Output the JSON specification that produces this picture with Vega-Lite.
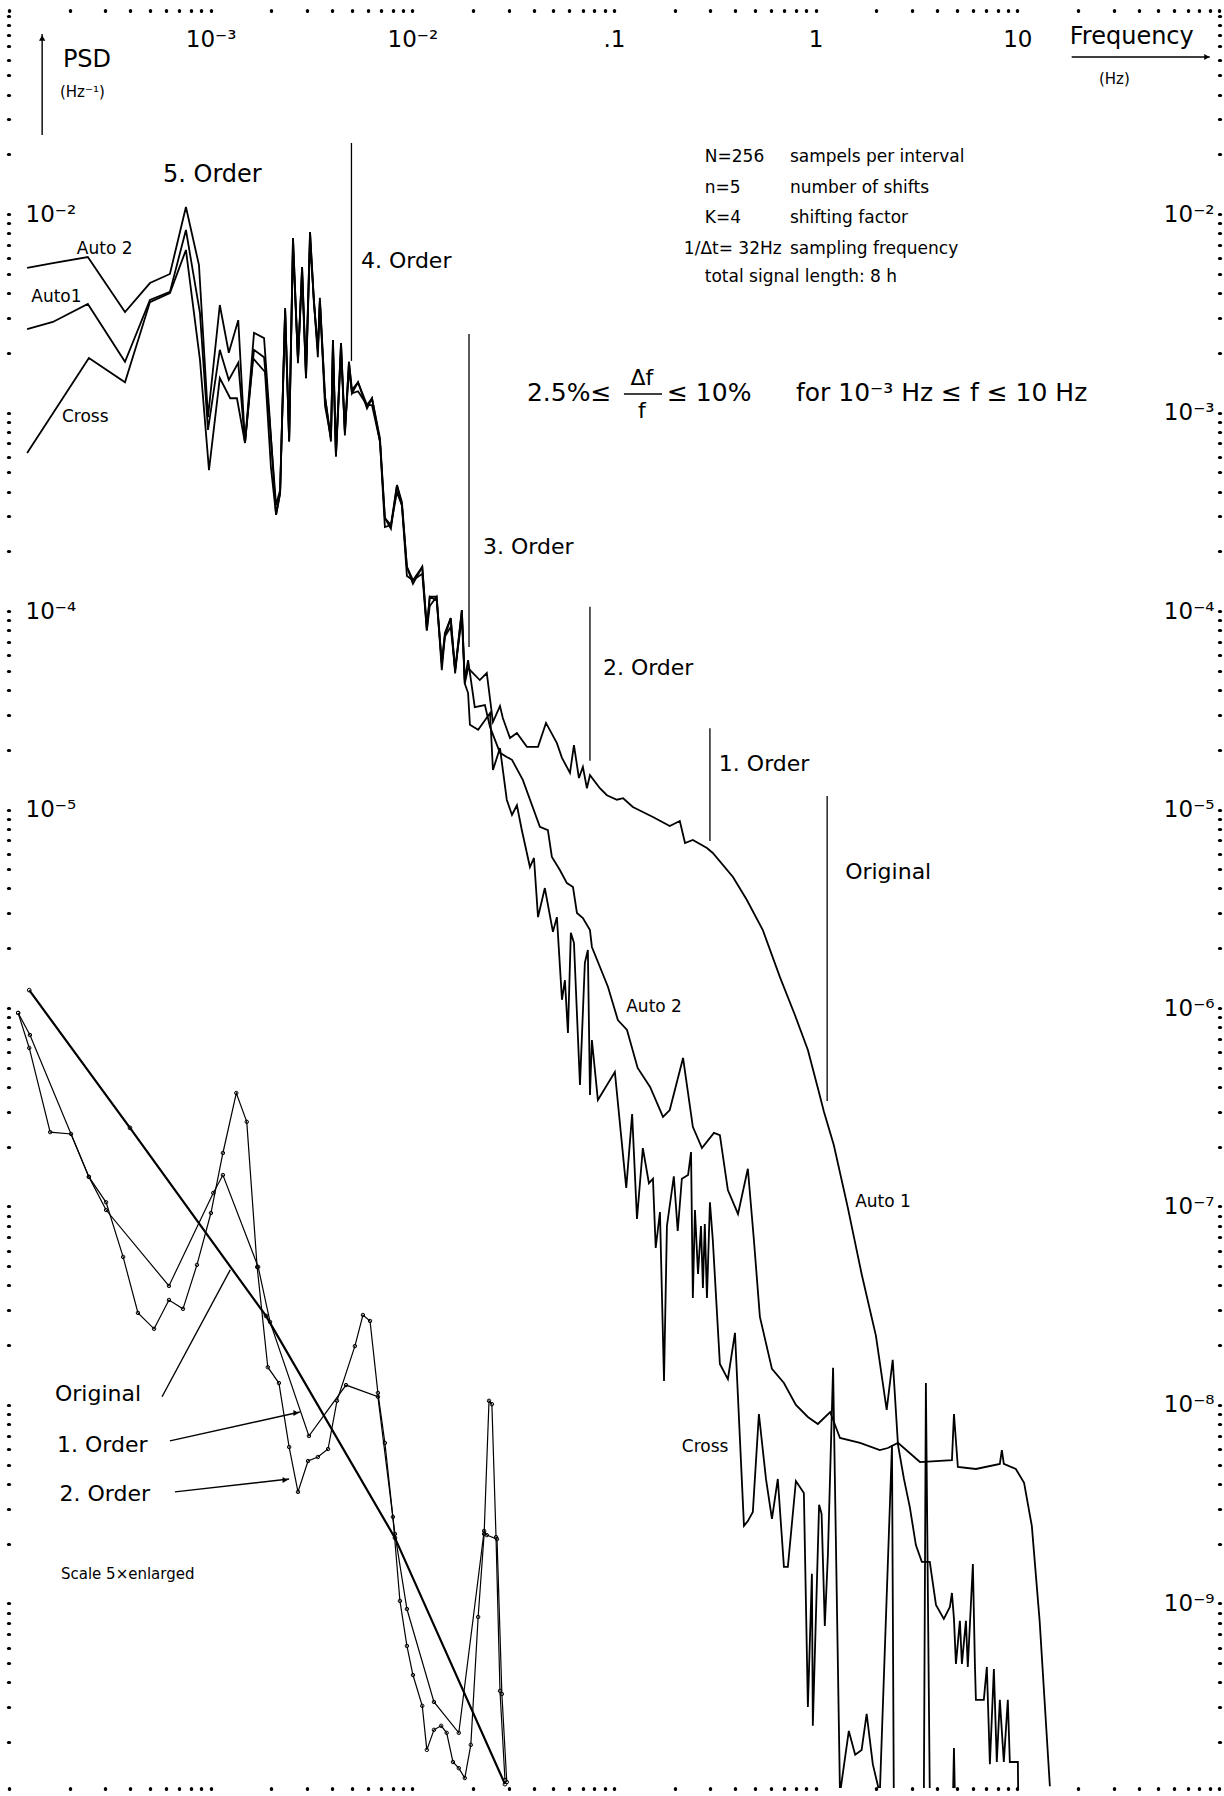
{
"$schema":"https://vega.github.io/schema/vega-lite/v6.json",
"width":1210,"height":1777,
"autosize":"none",
"padding":{"left":9,"top":11,"right":5,"bottom":8},
"background":"white",
"config":{"view":{"stroke":null},"font":"DejaVu Sans","axis":{"labelFont":"DejaVu Sans","labelColor":"black","tickColor":"black","domain":false,"grid":false,"title":null,"tickSize":1,"tickWidth":3.2,"tickCap":"round","labelOverlap":false,"labelFlush":false,"labelBound":false}},
"datasets":{
"a2":[{"f":1.23e-4,"p":5.35e-3},{"f":1.65e-4,"p":5.66e-3},{"f":2.46e-4,"p":6.07e-3},{"f":3.76e-4,"p":3.21e-3},{"f":5.00e-4,"p":4.49e-3},{"f":6.28e-4,"p":4.99e-3},{"f":7.54e-4,"p":1.085e-2},{"f":8.75e-4,"p":5.53e-3},{"f":9.70e-4,"p":9.49e-4},{"f":1.11e-3,"p":3.48e-3},{"f":1.23e-3,"p":2.00e-3},{"f":1.37e-3,"p":2.92e-3},{"f":1.48e-3,"p":7.02e-4},{"f":1.64e-3,"p":2.52e-3},{"f":1.84e-3,"p":2.37e-3},{"f":1.95e-3,"p":1.03e-3},{"f":2.11e-3,"p":3.05e-4},{"f":2.21e-3,"p":3.93e-4},
{"f":2.34e-3,"p":3.36e-3},{"f":2.45e-3,"p":7.44e-4},{"f":2.56e-3,"p":7.57e-3},{"f":2.71e-3,"p":1.84e-3},{"f":2.84e-3,"p":5.41e-3},{"f":2.97e-3,"p":1.55e-3},{"f":3.11e-3,"p":8.11e-3},{"f":3.25e-3,"p":3.69e-3},{"f":3.40e-3,"p":2.07e-3},{"f":3.48e-3,"p":3.78e-3},{"f":3.69e-3,"p":1.20e-3},{"f":3.95e-3,"p":7.44e-4},{"f":4.04e-3,"p":2.32e-3},{"f":4.18e-3,"p":6.25e-4},{"f":4.43e-3,"p":2.24e-3},{"f":4.63e-3,"p":7.98e-4},{"f":4.85e-3,"p":1.80e-3},{"f":5.02e-3,"p":1.30e-3},{"f":5.38e-3,"p":1.42e-3},{"f":5.96e-3,"p":1.09e-3},{"f":6.31e-3,"p":1.18e-3},{"f":6.91e-3,"p":7.44e-4},{"f":7.31e-3,"p":2.94e-4},{"f":7.83e-3,"p":2.71e-4},{"f":8.39e-3,"p":4.31e-4},{"f":8.88e-3,"p":3.54e-4},{"f":9.40e-3,"p":1.67e-4},{"f":1.007e-2,"p":1.43e-4},{"f":1.12e-2,"p":1.67e-4},{"f":1.18e-2,"p":8.31e-5},{"f":1.22e-2,"p":1.18e-4},{"f":1.32e-2,"p":1.18e-4},{"f":1.40e-2,"p":5.47e-5},{"f":1.45e-2,"p":7.75e-5},{"f":1.55e-2,"p":9.22e-5},{"f":1.63e-2,"p":5.05e-5},{"f":1.76e-2,"p":1.01e-4},{"f":1.82e-2,"p":4.49e-5},{"f":1.89e-2,"p":5.66e-5},
{"f":2.04e-2,"p":3.28e-5},{"f":2.29e-2,"p":3.36e-5},{"f":2.43e-2,"p":2.60e-5},{"f":2.72e-2,"p":1.93e-5},{"f":2.94e-2,"p":1.84e-5},{"f":3.12e-2,"p":1.78e-5},{"f":3.53e-2,"p":1.41e-5},{"f":4.29e-2,"p":8.17e-6},{"f":4.70e-2,"p":7.88e-6},{"f":4.92e-2,"p":5.77e-6},{"f":5.39e-2,"p":4.96e-6},{"f":5.84e-2,"p":4.26e-6},{"f":6.26e-2,"p":4.07e-6},{"f":6.55e-2,"p":3.01e-6},{"f":7.01e-2,"p":2.84e-6},{"f":7.60e-2,"p":2.47e-6},{"f":7.77e-2,"p":2.03e-6},{"f":9.33e-2,"p":1.28e-6},{"f":0.1045,"p":8.70e-7},{"f":0.116,"p":7.75e-7},{"f":0.131,"p":4.99e-7},{"f":0.151,"p":4.00e-7},{"f":0.175,"p":2.83e-7},{"f":0.189,"p":3.06e-7},{"f":0.220,"p":5.60e-7},{"f":0.246,"p":2.52e-7},{"f":0.273,"p":1.97e-7},{"f":0.313,"p":2.35e-7},{"f":0.335,"p":2.29e-7},{"f":0.367,"p":1.21e-7},{"f":0.412,"p":9.17e-8},{"f":0.461,"p":1.55e-7},{"f":0.494,"p":6.78e-8},{"f":0.529,"p":2.78e-8},{"f":0.607,"p":1.52e-8},{"f":0.696,"p":1.29e-8},{"f":0.798,"p":1.00e-8},{"f":0.915,"p":8.70e-9},{"f":1.025,"p":8.02e-9},{"f":1.18,"p":9.22e-9},{"f":1.32,"p":6.82e-9},{"f":1.66,"p":6.44e-9},{"f":2.08,"p":5.93e-9},{"f":2.28,"p":6.07e-9},{"f":2.56,"p":6.44e-9},{"f":3.29,"p":5.16e-9},{"f":4.74,"p":5.28e-9},{"f":4.85,"p":9.01e-9},{"f":5.07,"p":4.87e-9},{"f":6.23,"p":4.76e-9},{"f":8.19,"p":5.05e-9},{"f":8.38,"p":5.93e-9},{"f":8.57,"p":5.05e-9},{"f":9.83,"p":4.76e-9},{"f":10.8,"p":4.05e-9},{"f":11.8,"p":2.46e-9},{"f":12.9,"p":8.17e-10},{"f":14.5,"p":1.20e-10}],
"a1":[{"f":1.23e-4,"p":2.63e-3},{"f":1.65e-4,"p":2.86e-3},{"f":2.46e-4,"p":3.52e-3},{"f":3.76e-4,"p":1.80e-3},{"f":5.00e-4,"p":3.69e-3},{"f":6.28e-4,"p":4.05e-3},{"f":7.54e-4,"p":8.31e-3},{"f":8.85e-4,"p":3.17e-3},{"f":9.70e-4,"p":8.17e-4},{"f":1.11e-3,"p":2.07e-3},{"f":1.23e-3,"p":1.46e-3},{"f":1.37e-3,"p":1.78e-3},{"f":1.48e-3,"p":7.02e-4},{"f":1.64e-3,"p":2.07e-3},{"f":1.84e-3,"p":1.90e-3},{"f":1.95e-3,"p":9.71e-4},{"f":2.11e-3,"p":3.42e-4},{"f":2.21e-3,"p":4.07e-4},{"f":2.34e-3,"p":3.28e-3},
{"f":2.45e-3,"p":7.14e-4},{"f":2.56e-3,"p":7.57e-3},{"f":2.71e-3,"p":1.77e-3},{"f":2.84e-3,"p":5.41e-3},{"f":2.97e-3,"p":1.49e-3},{"f":3.11e-3,"p":8.11e-3},{"f":3.25e-3,"p":3.54e-3},{"f":3.40e-3,"p":2.07e-3},{"f":3.48e-3,"p":3.63e-3},{"f":3.69e-3,"p":1.20e-3},{"f":3.95e-3,"p":7.14e-4},{"f":4.04e-3,"p":2.32e-3},{"f":4.18e-3,"p":6.00e-4},{"f":4.43e-3,"p":2.24e-3},{"f":4.63e-3,"p":7.66e-4},{"f":4.85e-3,"p":1.80e-3},{"f":5.02e-3,"p":1.25e-3},{"f":5.38e-3,"p":1.42e-3},{"f":5.96e-3,"p":1.05e-3},{"f":6.31e-3,"p":1.18e-3},{"f":6.91e-3,"p":7.14e-4},{"f":7.31e-3,"p":2.94e-4},{"f":7.83e-3,"p":2.60e-4},{"f":8.39e-3,"p":4.31e-4},{"f":8.88e-3,"p":3.40e-4},{"f":9.40e-3,"p":1.67e-4},{"f":1.007e-2,"p":1.37e-4},{"f":1.12e-2,"p":1.67e-4},{"f":1.18e-2,"p":7.98e-5},{"f":1.22e-2,"p":1.18e-4},{"f":1.32e-2,"p":1.13e-4},{"f":1.40e-2,"p":5.47e-5},{"f":1.45e-2,"p":7.44e-5},{"f":1.55e-2,"p":9.22e-5},{"f":1.63e-2,"p":4.85e-5},{"f":1.76e-2,"p":1.01e-4},{"f":1.82e-2,"p":4.31e-5},
{"f":1.89e-2,"p":5.16e-5},{"f":2.16e-2,"p":4.49e-5},{"f":2.34e-2,"p":4.87e-5},{"f":2.51e-2,"p":2.76e-5},{"f":2.72e-2,"p":3.32e-5},{"f":2.81e-2,"p":2.89e-5},{"f":3.05e-2,"p":2.29e-5},{"f":3.30e-2,"p":2.43e-5},{"f":3.70e-2,"p":2.07e-5},{"f":4.20e-2,"p":2.07e-5},{"f":4.60e-2,"p":2.73e-5},{"f":5.21e-2,"p":2.16e-5},{"f":5.52e-2,"p":1.82e-5},{"f":6.05e-2,"p":1.53e-5},{"f":6.33e-2,"p":2.11e-5},{"f":6.70e-2,"p":1.44e-5},{"f":7.01e-2,"p":1.64e-5},{"f":7.34e-2,"p":1.28e-5},{"f":7.60e-2,"p":1.49e-5},{"f":8.51e-2,"p":1.28e-5},{"f":9.22e-2,"p":1.18e-5},{"f":0.1034,"p":1.12e-5},{"f":0.111,"p":1.14e-5},{"f":0.124,"p":1.03e-5},{"f":0.156,"p":9.17e-6},{"f":0.189,"p":8.26e-6},{"f":0.212,"p":8.75e-6},{"f":0.225,"p":6.78e-6},{"f":0.246,"p":7.02e-6},{"f":0.289,"p":6.40e-6},{"f":0.309,"p":6.04e-6},{"f":0.389,"p":4.57e-6},{"f":0.456,"p":3.50e-6},{"f":0.547,"p":2.47e-6},{"f":0.665,"p":1.43e-6},{"f":0.789,"p":9.22e-7},{"f":0.915,"p":6.14e-7},{"f":1.025,"p":3.95e-7},{"f":1.10,"p":2.99e-7},{"f":1.23,"p":2.04e-7},{"f":1.44,"p":9.98e-8},{"f":1.69,"p":4.57e-8},{"f":1.99,"p":2.23e-8},{"f":2.25,"p":9.44e-9},{"f":2.41,"p":1.69e-8},{"f":2.56,"p":6.29e-9},{"f":2.74,"p":4.24e-9},{"f":2.93,"p":3.06e-9},{"f":3.14,"p":1.97e-9},{"f":3.36,"p":1.62e-9},{"f":3.68,"p":1.62e-9},{"f":3.95,"p":9.83e-10},{"f":4.32,"p":8.36e-10},{"f":4.63,"p":9.60e-10},{"f":4.74,"p":1.13e-9},{"f":4.85,"p":8.36e-10},{"f":4.96,"p":4.96e-10},{"f":5.19,"p":8.17e-10},{"f":5.31,"p":4.96e-10},{"f":5.56,"p":8.17e-10},{"f":5.68,"p":4.79e-10},{"f":6.02,"p":1.58e-9},{"f":6.16,"p":4.96e-10},{"f":6.23,"p":3.27e-10},{"f":6.82,"p":3.27e-10},{"f":7.06,"p":4.79e-10},{"f":7.31,"p":1.55e-10},{"f":7.65,"p":4.68e-10},{"f":7.91,"p":1.59e-10},{"f":8.19,"p":3.27e-10},{"f":8.57,"p":1.59e-10},{"f":8.97,"p":3.27e-10},{"f":9.18,"p":1.59e-10},{"f":10.06,"p":1.59e-10},{"f":10.1,"p":1.1e-10}],
"cr":[{"f":1.23e-4,"p":6.25e-4},{"f":2.49e-4,"p":1.88e-3},{"f":3.76e-4,"p":1.42e-3},{"f":5.00e-4,"p":3.60e-3},{"f":6.28e-4,"p":4.00e-3},{"f":7.54e-4,"p":6.59e-3},{"f":8.85e-4,"p":1.84e-3},{"f":9.81e-4,"p":5.13e-4},{"f":1.11e-3,"p":1.49e-3},{"f":1.25e-3,"p":1.18e-3},{"f":1.35e-3,"p":1.18e-3},{"f":1.48e-3,"p":7.02e-4},{"f":1.62e-3,"p":1.88e-3},{"f":1.86e-3,"p":1.60e-3},{"f":1.99e-3,"p":5.31e-4},{"f":2.11e-3,"p":3.05e-4},{"f":2.21e-3,"p":3.93e-4},{"f":2.34e-3,"p":3.21e-3},
{"f":2.45e-3,"p":7.14e-4},{"f":2.56e-3,"p":6.81e-3},{"f":2.71e-3,"p":1.84e-3},{"f":2.84e-3,"p":4.98e-3},{"f":2.97e-3,"p":1.49e-3},{"f":3.11e-3,"p":7.30e-3},{"f":3.25e-3,"p":3.69e-3},{"f":3.40e-3,"p":1.90e-3},{"f":3.48e-3,"p":3.63e-3},{"f":3.69e-3,"p":1.08e-3},{"f":3.95e-3,"p":7.44e-4},{"f":4.04e-3,"p":2.13e-3},{"f":4.18e-3,"p":6.00e-4},{"f":4.43e-3,"p":2.02e-3},{"f":4.63e-3,"p":7.98e-4},{"f":4.85e-3,"p":1.66e-3},{"f":5.02e-3,"p":1.25e-3},{"f":5.38e-3,"p":1.28e-3},{"f":5.96e-3,"p":1.09e-3},{"f":6.31e-3,"p":1.09e-3},{"f":6.91e-3,"p":7.14e-4},{"f":7.31e-3,"p":2.65e-4},{"f":7.83e-3,"p":2.71e-4},{"f":8.39e-3,"p":3.97e-4},{"f":8.88e-3,"p":3.40e-4},{"f":9.40e-3,"p":1.50e-4},{"f":1.007e-2,"p":1.43e-4},{"f":1.12e-2,"p":1.54e-4},{"f":1.18e-2,"p":7.98e-5},{"f":1.22e-2,"p":1.06e-4},{"f":1.32e-2,"p":1.18e-4},{"f":1.40e-2,"p":5.03e-5},{"f":1.45e-2,"p":7.44e-5},{"f":1.55e-2,"p":8.30e-5},{"f":1.63e-2,"p":5.05e-5},{"f":1.76e-2,"p":9.29e-5},{"f":1.82e-2,"p":4.31e-5},
{"f":1.89e-2,"p":3.86e-5},{"f":1.93e-2,"p":2.67e-5},{"f":2.12e-2,"p":2.52e-5},{"f":2.43e-2,"p":3.06e-5},{"f":2.51e-2,"p":1.58e-5},{"f":2.72e-2,"p":2.04e-5},{"f":2.94e-2,"p":1.12e-5},{"f":3.12e-2,"p":9.38e-6},{"f":3.30e-2,"p":1.05e-5},{"f":3.49e-2,"p":7.88e-6},{"f":3.83e-2,"p":5.13e-6},{"f":4.01e-2,"p":5.70e-6},{"f":4.20e-2,"p":2.87e-6},{"f":4.54e-2,"p":4.02e-6},{"f":4.98e-2,"p":2.42e-6},{"f":5.21e-2,"p":2.87e-6},{"f":5.52e-2,"p":1.10e-6},{"f":5.71e-2,"p":1.38e-6},{"f":5.91e-2,"p":7.48e-7},{"f":6.11e-2,"p":2.39e-6},{"f":6.33e-2,"p":2.13e-6},{"f":6.78e-2,"p":4.09e-7},{"f":7.17e-2,"p":1.69e-6},{"f":7.42e-2,"p":1.96e-6},{"f":7.60e-2,"p":3.65e-7},{"f":7.77e-2,"p":6.90e-7},{"f":8.32e-2,"p":3.44e-7},{"f":0.101,"p":4.76e-7},{"f":0.115,"p":1.24e-7},{"f":0.123,"p":2.92e-7},{"f":0.130,"p":8.65e-8},{"f":0.139,"p":1.97e-7},{"f":0.149,"p":1.31e-7},{"f":0.156,"p":1.38e-7},{"f":0.161,"p":6.18e-8},{"f":0.169,"p":9.38e-8},{"f":0.177,"p":1.32e-8},{"f":0.183,"p":7.98e-8},{"f":0.198,"p":1.42e-7},{"f":0.207,"p":7.53e-8},{"f":0.217,"p":1.38e-7},{"f":0.233,"p":1.44e-7},{"f":0.241,"p":1.88e-7},{"f":0.246,"p":3.46e-8},{"f":0.252,"p":9.60e-8},{"f":0.261,"p":4.57e-8},{"f":0.270,"p":7.98e-8},{"f":0.276,"p":3.89e-8},{"f":0.282,"p":8.17e-8},{"f":0.289,"p":3.46e-8},{"f":0.299,"p":1.05e-7},{"f":0.309,"p":6.78e-8},{"f":0.335,"p":1.61e-8},{"f":0.367,"p":1.35e-8},{"f":0.398,"p":2.31e-8},{"f":0.441,"p":2.46e-9},{"f":0.461,"p":2.60e-9},{"f":0.488,"p":2.89e-9},{"f":0.523,"p":9.01e-9},{"f":0.567,"p":4.24e-9},{"f":0.607,"p":2.67e-9},{"f":0.649,"p":4.24e-9},{"f":0.696,"p":1.53e-9},{"f":0.728,"p":1.53e-9},{"f":0.798,"p":4.14e-9},{"f":0.874,"p":3.60e-9},{"f":0.915,"p":3.01e-10},{"f":0.958,"p":1.41e-9},{"f":0.968,"p":2.42e-10},{"f":1.04,"p":3.14e-9},{"f":1.07,"p":2.83e-9},{"f":1.11,"p":7.70e-10},{"f":1.15,"p":1.76e-9},{"f":1.22,"p":1.54e-8},{"f":1.32,"p":1.1e-10},{"f":1.46,"p":2.28e-10},{"f":1.57,"p":1.73e-10},{"f":1.69,"p":1.83e-10},{"f":1.79,"p":2.78e-10},{"f":1.92,"p":1.55e-10},{"f":2.08,"p":1.1e-10},{"f":2.39,"p":6.29e-9},{"f":2.44,"p":1.1e-10},{"f":3.44,"p":1.1e-10},{"f":3.52,"p":1.29e-8},{"f":3.68,"p":1.1e-10},{"f":4.8,"p":1.1e-10},{"f":4.85,"p":1.87e-10},{"f":4.9,"p":1.1e-10}],
"inset":[{"s":"1. Order","f":1.11e-4,"p":9.44e-7},{"s":"1. Order","f":1.27e-4,"p":7.31e-7},{"s":"1. Order","f":2.49e-4,"p":1.41e-7},{"s":"1. Order","f":3.03e-4,"p":9.60e-8},{"s":"1. Order","f":6.21e-4,"p":3.98e-8},{"s":"1. Order","f":1.03e-3,"p":1.17e-7},{"s":"1. Order","f":1.15e-3,"p":1.44e-7},{"s":"1. Order","f":1.72e-3,"p":4.96e-8},{"s":"1. Order","f":1.97e-3,"p":2.62e-8},{"s":"1. Order","f":3.07e-3,"p":6.98e-9},{"s":"1. Order","f":4.69e-3,"p":1.26e-8},{"s":"1. Order","f":6.75e-3,"p":1.10e-8},{"s":"1. Order","f":8.20e-3,"p":2.24e-9},{"s":"1. Order","f":9.40e-3,"p":9.38e-10},{"s":"1. Order","f":1.28e-2,"p":3.19e-10},{"s":"1. Order","f":1.70e-2,"p":2.23e-10},{"s":"1. Order","f":2.27e-2,"p":2.32e-9},{"s":"1. Order","f":2.34e-2,"p":2.21e-9},{"s":"1. Order","f":2.63e-2,"p":2.11e-9},{"s":"1. Order","f":2.78e-2,"p":3.50e-10},{"s":"1. Order","f":2.94e-2,"p":1.26e-10},
{"s":"2. Order","f":1.11e-4,"p":9.44e-7},{"s":"2. Order","f":1.26e-4,"p":6.29e-7},{"s":"2. Order","f":1.60e-4,"p":2.37e-7},{"s":"2. Order","f":2.03e-4,"p":2.32e-7},{"s":"2. Order","f":2.49e-4,"p":1.41e-7},{"s":"2. Order","f":3.03e-4,"p":1.05e-7},{"s":"2. Order","f":3.68e-4,"p":5.57e-8},{"s":"2. Order","f":4.36e-4,"p":2.91e-8},{"s":"2. Order","f":5.24e-4,"p":2.42e-8},{"s":"2. Order","f":6.21e-4,"p":3.38e-8},{"s":"2. Order","f":7.29e-4,"p":3.05e-8},{"s":"2. Order","f":8.55e-4,"p":5.08e-8},{"s":"2. Order","f":1.003e-3,"p":9.27e-8},{"s":"2. Order","f":1.15e-3,"p":1.86e-7},{"s":"2. Order","f":1.34e-3,"p":3.73e-7},{"s":"2. Order","f":1.51e-3,"p":2.67e-7},{"s":"2. Order","f":1.70e-3,"p":4.96e-8},{"s":"2. Order","f":1.92e-3,"p":1.55e-8},{"s":"2. Order","f":2.18e-3,"p":1.29e-8},{"s":"2. Order","f":2.45e-3,"p":6.14e-9},{"s":"2. Order","f":2.71e-3,"p":3.65e-9},{"s":"2. Order","f":3.04e-3,"p":5.22e-9},{"s":"2. Order","f":3.40e-3,"p":5.47e-9},{"s":"2. Order","f":3.82e-3,"p":6.00e-9},{"s":"2. Order","f":4.23e-3,"p":1.05e-8},{"s":"2. Order","f":5.19e-3,"p":1.98e-8},{"s":"2. Order","f":5.69e-3,"p":2.84e-8},{"s":"2. Order","f":6.17e-3,"p":2.65e-8},{"s":"2. Order","f":6.75e-3,"p":1.15e-8},{"s":"2. Order","f":7.31e-3,"p":6.44e-9},{"s":"2. Order","f":8.01e-3,"p":2.73e-9},{"s":"2. Order","f":8.68e-3,"p":1.03e-9},{"s":"2. Order","f":9.40e-3,"p":6.11e-10},{"s":"2. Order","f":1.007e-2,"p":4.36e-10},{"s":"2. Order","f":1.12e-2,"p":3.05e-10},{"s":"2. Order","f":1.18e-2,"p":1.83e-10},{"s":"2. Order","f":1.28e-2,"p":2.31e-10},{"s":"2. Order","f":1.39e-2,"p":2.42e-10},{"s":"2. Order","f":1.48e-2,"p":2.23e-10},{"s":"2. Order","f":1.59e-2,"p":1.59e-10},{"s":"2. Order","f":1.70e-2,"p":1.48e-10},{"s":"2. Order","f":1.82e-2,"p":1.32e-10},{"s":"2. Order","f":1.95e-2,"p":1.94e-10},{"s":"2. Order","f":2.12e-2,"p":8.55e-10},{"s":"2. Order","f":2.27e-2,"p":2.24e-9},{"s":"2. Order","f":2.40e-2,"p":1.05e-8},{"s":"2. Order","f":2.48e-2,"p":1.01e-8},{"s":"2. Order","f":2.60e-2,"p":2.16e-9},{"s":"2. Order","f":2.72e-2,"p":3.63e-10},{"s":"2. Order","f":2.88e-2,"p":1.29e-10}],
"orig":[{"f":1.26e-4,"p":1.23e-6},{"f":3.98e-4,"p":2.49e-7},{"f":1.88e-3,"p":2.81e-8},{"f":8.20e-3,"p":2.14e-9},{"f":2.88e-2,"p":1.23e-10}],
"orders":[{"f":4.99e-3,"p":2.28e-2,"p2":1.82e-3},{"f":1.91e-2,"p":2.49e-3,"p2":6.59e-5},{"f":7.60e-2,"p":1.05e-4,"p2":1.76e-5},{"f":0.299,"p":2.57e-5,"p2":6.94e-6},{"f":1.14,"p":1.17e-5,"p2":3.40e-7}],
"pointers":[{"f":5.74e-4,"p":1.10e-8,"f2":1.25e-3,"p2":4.79e-8},{"f":6.28e-4,"p":6.59e-9,"f2":2.77e-3,"p2":9.22e-9},{"f":6.65e-4,"p":3.65e-9,"f2":2.45e-3,"p2":4.24e-9},{"f":1.46e-4,"p":2.50e-2,"f2":1.46e-4,"p2":8.07e-2},{"f":18.6,"p":6.18e-2,"f2":90,"p2":6.18e-2},{"f":0.112,"p":1.24e-3,"f2":0.173,"p2":1.24e-3}],
"headsUp":[{"f":1.46e-4,"p":7.70e-2}],
"headsRight":[{"f":87.0,"p":6.18e-2},{"f":2.65e-3,"p":9.11e-9},{"f":2.34e-3,"p":4.19e-9}],
"tOrder":[{"f":5.56e-3,"p":5.80e-3,"t":"4. Order"},{"f":2.24e-2,"p":2.10e-4,"t":"3. Order"},{"f":8.81e-2,"p":5.19e-5,"t":"2. Order"},{"f":0.331,"p":1.70e-5,"t":"1. Order"},{"f":1.40,"p":4.84e-6,"t":"Original"},{"f":1.69e-4,"p":1.13e-8,"t":"Original"},{"f":1.73e-4,"p":6.29e-9,"t":"1. Order"},{"f":1.78e-4,"p":3.56e-9,"t":"2. Order"}],
"tBig":[{"f":5.80e-4,"p":1.57e-2,"t":"5. Order"},{"f":1.85e-4,"p":5.97e-2,"t":"PSD"},{"f":18.2,"p":7.79e-2,"t":"Frequency"}],
"tCurve":[{"f":2.17e-4,"p":6.70e-3,"t":"Auto 2"},{"f":1.29e-4,"p":3.84e-3,"t":"Auto1"},{"f":1.83e-4,"p":9.49e-4,"t":"Cross"},{"f":0.115,"p":1.006e-6,"t":"Auto 2"},{"f":1.57,"p":1.05e-7,"t":"Auto 1"},{"f":0.217,"p":6.14e-9,"t":"Cross"}],
"tInfo":[{"f":0.282,"p":1.94e-2,"t":"N=256"},{"f":0.745,"p":1.94e-2,"t":"sampels per interval"},{"f":0.282,"p":1.35e-2,"t":"n=5"},{"f":0.745,"p":1.35e-2,"t":"number of shifts"},{"f":0.282,"p":9.60e-3,"t":"K=4"},{"f":0.745,"p":9.60e-3,"t":"shifting factor"},{"f":0.222,"p":6.70e-3,"t":"1/Δt= 32Hz"},{"f":0.745,"p":6.70e-3,"t":"sampling frequency"},{"f":0.282,"p":4.81e-3,"t":"total signal length: 8 h"}],
"tSmall":[{"f":1.79e-4,"p":4.12e-2,"t":"(Hz⁻¹)"},{"f":25.4,"p":4.79e-2,"t":"(Hz)"},{"f":1.81e-4,"p":1.41e-9,"t":"Scale  5×enlarged"}],
"tFormula":[{"f":3.70e-2,"p":1.25e-3,"t":"2.5%≤"},{"f":0.183,"p":1.25e-3,"t":"≤ 10%"},{"f":0.798,"p":1.25e-3,"t":"for  10⁻³ Hz ≤ f ≤ 10 Hz"}],
"tFrac":[{"f":0.1375,"p":1.49e-3,"t":"Δf"},{"f":0.1375,"p":1.02e-3,"t":"f"}]
},
"encoding":{
"x":{"field":"f","type":"quantitative","scale":{"type":"log","domain":[0.0001,100],"nice":false},"axis":null},
"y":{"field":"p","type":"quantitative","scale":{"type":"log","domain":[1.176e-10,0.1054],"nice":false},"axis":null}
},
"resolve":{"axis":{"x":"independent","y":"independent"}},
"layer":[
{"data":{"name":"a2"},"mark":{"type":"line","stroke":"black","strokeWidth":1.8,"clip":true},
"encoding":{
"x":{"field":"f","type":"quantitative","scale":{"type":"log","domain":[0.0001,100],"nice":false},
"axis":{"orient":"top","values":[0.0001,0.0002,0.0003,0.0004,0.0005,0.0006,0.0007,0.0008,0.0009,0.001,0.002,0.003,0.004,0.005,0.006,0.007,0.008,0.009,0.01,0.02,0.03,0.04,0.05,0.06,0.07,0.08,0.09,0.1,0.2,0.3,0.4,0.5,0.6,0.7,0.8,0.9,1,2,3,4,5,6,7,8,9,10,20,30,40,50,60,70,80,90,100],
"labelExpr":"datum.value==0.001?'10⁻³':datum.value==0.01?'10⁻²':datum.value==0.1?'.1':datum.value==1?'1':datum.value==10?'10':''",
"labelPadding":-29,"labelBaseline":"middle","labelAlign":"center","labelFontSize":23}},
"y":{"field":"p","type":"quantitative","scale":{"type":"log","domain":[1.176e-10,0.1054],"nice":false},
"axis":{"orient":"left","values":[2e-10,3e-10,4e-10,5e-10,6e-10,7e-10,8e-10,9e-10,1e-9,2e-9,3e-9,4e-9,5e-9,6e-9,7e-9,8e-9,9e-9,1e-8,2e-8,3e-8,4e-8,5e-8,6e-8,7e-8,8e-8,9e-8,1e-7,2e-7,3e-7,4e-7,5e-7,6e-7,7e-7,8e-7,9e-7,1e-6,2e-6,3e-6,4e-6,5e-6,6e-6,7e-6,8e-6,9e-6,1e-5,2e-5,3e-5,4e-5,5e-5,6e-5,7e-5,8e-5,9e-5,1e-4,2e-4,3e-4,4e-4,5e-4,6e-4,7e-4,8e-4,9e-4,1e-3,2e-3,3e-3,4e-3,5e-3,6e-3,7e-3,8e-3,9e-3,1e-2,2e-2,3e-2,4e-2,5e-2,6e-2,7e-2,8e-2,9e-2,0.1],
"labelExpr":"datum.value==0.01?'10⁻²':datum.value==0.0001?'10⁻⁴':datum.value==0.00001?'10⁻⁵':''",
"labelAlign":"left","labelBaseline":"middle","labelPadding":-17,"labelFontSize":23}}
}},
{"data":{"name":"a1"},"mark":{"type":"line","stroke":"black","strokeWidth":1.8,"clip":true},
"encoding":{
"x":{"field":"f","type":"quantitative","scale":{"type":"log","domain":[0.0001,100],"nice":false},
"axis":{"orient":"bottom","values":[0.0001,0.0002,0.0003,0.0004,0.0005,0.0006,0.0007,0.0008,0.0009,0.001,0.002,0.003,0.004,0.005,0.006,0.007,0.008,0.009,0.01,0.02,0.03,0.04,0.05,0.06,0.07,0.08,0.09,0.1,0.2,0.3,0.4,0.5,0.6,0.7,0.8,0.9,1,2,3,4,5,6,7,8,9,10,20,30,40,50,60,70,80,90,100],"labels":false}},
"y":{"field":"p","type":"quantitative","scale":{"type":"log","domain":[1.176e-10,0.1054],"nice":false},
"axis":{"orient":"right","values":[2e-10,3e-10,4e-10,5e-10,6e-10,7e-10,8e-10,9e-10,1e-9,2e-9,3e-9,4e-9,5e-9,6e-9,7e-9,8e-9,9e-9,1e-8,2e-8,3e-8,4e-8,5e-8,6e-8,7e-8,8e-8,9e-8,1e-7,2e-7,3e-7,4e-7,5e-7,6e-7,7e-7,8e-7,9e-7,1e-6,2e-6,3e-6,4e-6,5e-6,6e-6,7e-6,8e-6,9e-6,1e-5,2e-5,3e-5,4e-5,5e-5,6e-5,7e-5,8e-5,9e-5,1e-4,2e-4,3e-4,4e-4,5e-4,6e-4,7e-4,8e-4,9e-4,1e-3,2e-3,3e-3,4e-3,5e-3,6e-3,7e-3,8e-3,9e-3,1e-2,2e-2,3e-2,4e-2,5e-2,6e-2,7e-2,8e-2,9e-2,0.1],
"labelExpr":"datum.value==0.01?'10⁻²':datum.value==0.001?'10⁻³':datum.value==0.0001?'10⁻⁴':datum.value==0.00001?'10⁻⁵':datum.value==0.000001?'10⁻⁶':datum.value==0.0000001?'10⁻⁷':datum.value==0.00000001?'10⁻⁸':datum.value==0.000000001?'10⁻⁹':''",
"labelAlign":"right","labelBaseline":"middle","labelPadding":-6,"labelFontSize":23}}
}},
{"data":{"name":"cr"},"mark":{"type":"line","stroke":"black","strokeWidth":1.8,"clip":true},"encoding":{}},
{"data":{"name":"inset"},"mark":{"type":"line","stroke":"black","strokeWidth":1.2,"clip":true},"encoding":{"detail":{"field":"s"}}},
{"data":{"name":"inset"},"mark":{"type":"point","shape":"circle","size":12,"filled":false,"stroke":"black","strokeWidth":1,"opacity":1,"clip":true},"encoding":{}},
{"data":{"name":"orig"},"mark":{"type":"line","stroke":"black","strokeWidth":2.2,"clip":true},"encoding":{}},
{"data":{"name":"orig"},"mark":{"type":"point","shape":"circle","size":14,"filled":false,"stroke":"black","strokeWidth":1,"opacity":1,"clip":true},"encoding":{}},
{"data":{"name":"orders"},"mark":{"type":"rule","stroke":"black","strokeWidth":1.3},"encoding":{"y2":{"field":"p2"}}},
{"data":{"name":"pointers"},"mark":{"type":"rule","stroke":"black","strokeWidth":1.4},"encoding":{"x2":{"field":"f2"},"y2":{"field":"p2"}}},
{"data":{"name":"headsUp"},"mark":{"type":"point","shape":"triangle-up","size":40,"filled":true,"color":"black","opacity":1},"encoding":{}},
{"data":{"name":"headsRight"},"mark":{"type":"point","shape":"triangle-right","size":35,"filled":true,"color":"black","opacity":1},"encoding":{}},
{"data":{"name":"tOrder"},"mark":{"type":"text","align":"left","baseline":"middle","fontSize":22,"font":"DejaVu Sans","color":"black"},"encoding":{"text":{"field":"t"}}},
{"data":{"name":"tBig"},"mark":{"type":"text","align":"left","baseline":"middle","fontSize":24,"font":"DejaVu Sans","color":"black"},"encoding":{"text":{"field":"t"}}},
{"data":{"name":"tCurve"},"mark":{"type":"text","align":"left","baseline":"middle","fontSize":17,"font":"DejaVu Sans","color":"black"},"encoding":{"text":{"field":"t"}}},
{"data":{"name":"tInfo"},"mark":{"type":"text","align":"left","baseline":"middle","fontSize":17,"font":"DejaVu Sans","color":"black"},"encoding":{"text":{"field":"t"}}},
{"data":{"name":"tSmall"},"mark":{"type":"text","align":"left","baseline":"middle","fontSize":15,"font":"DejaVu Sans","color":"black"},"encoding":{"text":{"field":"t"}}},
{"data":{"name":"tFormula"},"mark":{"type":"text","align":"left","baseline":"middle","fontSize":25,"font":"DejaVu Sans","color":"black"},"encoding":{"text":{"field":"t"}}},
{"data":{"name":"tFrac"},"mark":{"type":"text","align":"center","baseline":"middle","fontSize":22,"font":"DejaVu Sans","color":"black"},"encoding":{"text":{"field":"t"}}}
]
}
